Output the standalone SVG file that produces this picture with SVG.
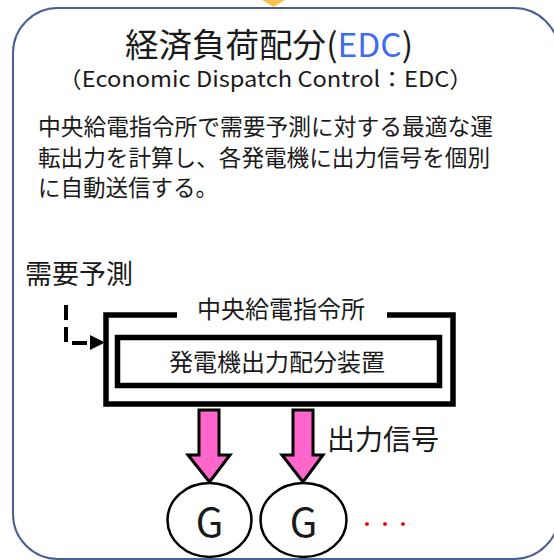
<svg xmlns="http://www.w3.org/2000/svg" width="554" height="560" viewBox="0 0 554 560">
<style>
text{font-family:"Noto Sans CJK JP","Noto Sans",sans-serif;fill:#1a1a1a}
.box{fill:none;stroke:#000;stroke-width:5.5}
.arr{fill:#ff66cc;stroke:#000;stroke-width:3;stroke-linejoin:miter}
.gen{fill:#fff;stroke:#000;stroke-width:2.5}
</style>
<rect width="554" height="560" fill="#fff"/>
<g id="frame">
<rect x="13" y="8" width="546" height="551" rx="45" ry="45" fill="#fff" stroke="#4a5f94" stroke-width="2"/>
<polygon points="262,0 285,0 273.5,7" fill="#f9c24e"/>
</g>
<g id="title">
<text x="125" y="57" font-size="33" textLength="288" lengthAdjust="spacingAndGlyphs">経済負荷配分(<tspan style="fill:#3d6cf2">EDC</tspan>)</text>
<text x="58" y="87" font-size="22" textLength="415" lengthAdjust="spacingAndGlyphs">（Economic Dispatch Control：EDC）</text>
</g>
<g id="desc">
<text x="38" y="135" font-size="22.5" textLength="455" lengthAdjust="spacingAndGlyphs">中央給電指令所で需要予測に対する最適な運</text>
<text x="38" y="166" font-size="22.5" textLength="452" lengthAdjust="spacingAndGlyphs">転出力を計算し、各発電機に出力信号を個別</text>
<text x="38" y="196" font-size="22.5">に自動送信する。</text>
</g>
<g id="demand">
<text x="25" y="284" font-size="27">需要予測</text>
</g>
<g id="center">
<path class="box" d="M177,315 H106 V404 H453 V315 H387"/>
<text x="281" y="318" font-size="24" text-anchor="middle">中央給電指令所</text>
</g>
<g id="device">
<rect class="box" x="117.5" y="337.5" width="322" height="48"/>
<text x="277" y="371" font-size="24" text-anchor="middle">発電機出力配分装置</text>
</g>
<g id="connectors">
<path d="M66,305 V343 H92" fill="none" stroke="#000" stroke-width="4" stroke-dasharray="15 7"/>
<polygon points="90,335 105,342.5 90,350" fill="#000"/>
<polygon class="arr" points="199,410 219,410 219,455 230,455 209.5,482 188,455 199,455"/>
<polygon class="arr" points="293,410 313,410 313,455 323,455 303,482 282,455 293,455"/>
</g>
<g id="signal">
<text x="327" y="450" font-size="28">出力信号</text>
</g>
<g id="gen1">
<ellipse class="gen" cx="209.5" cy="520" rx="42" ry="37"/>
<text x="209.5" y="537" font-size="40" text-anchor="middle">G</text>
</g>
<g id="gen2">
<ellipse class="gen" cx="303.5" cy="520" rx="43" ry="37"/>
<text x="303.5" y="537" font-size="40" text-anchor="middle">G</text>
</g>
<g id="more">
<text x="358" y="531" font-size="18" style="fill:#e00000">・・・</text>
</g>
</svg>
